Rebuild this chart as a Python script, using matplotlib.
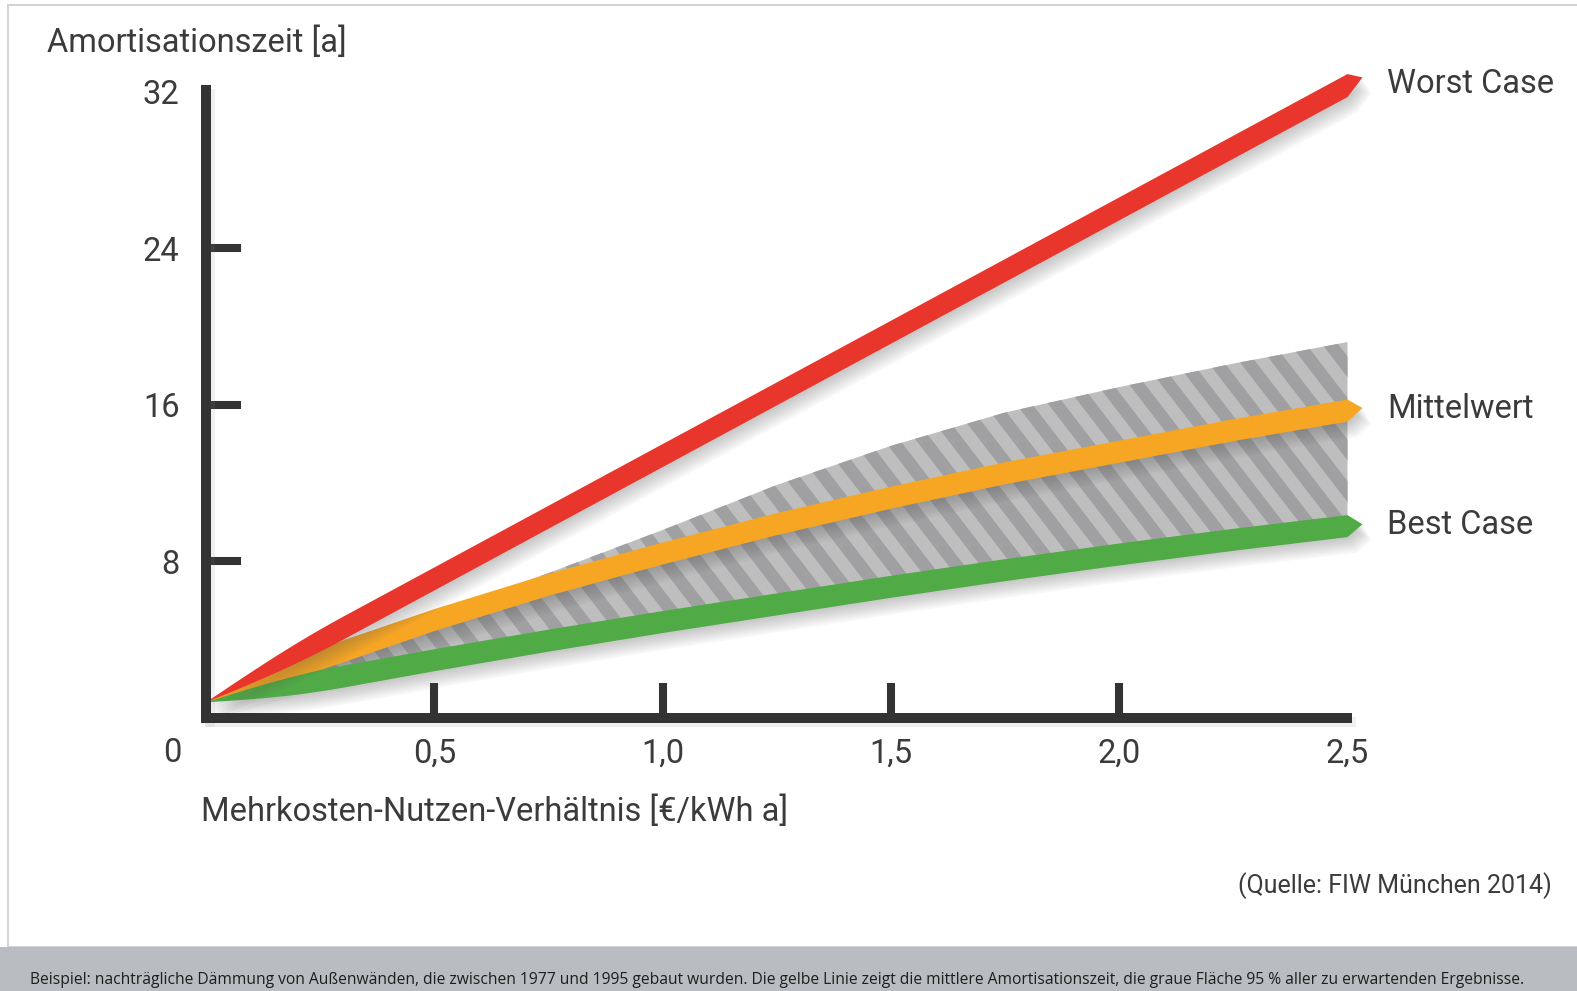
import numpy as np
import matplotlib
matplotlib.use("Agg")
import matplotlib.pyplot as plt
from matplotlib.patches import Polygon, Rectangle
from matplotlib.collections import PolyCollection
import matplotlib.patheffects as pe

# ---- data: payback time [a] vs. extra-cost/benefit ratio [EUR/kWh a] ----
ratio = [0.0, 0.25, 0.5, 0.75, 1.0, 1.25, 1.5, 1.75, 2.0, 2.25, 2.5]
worst_case = [0.8, 3.95, 7.1, 10.25, 13.4, 16.55, 19.7, 22.85, 26.0, 29.15, 32.3]
mittelwert = [0.8, 3.0, 5.0, 6.8, 8.4, 9.9, 11.25, 12.5, 13.6, 14.7, 15.7]
best_case = [0.8, 1.9, 2.95, 3.95, 4.9, 5.8, 6.7, 7.55, 8.35, 9.1, 9.8]
band_upper = [0.8, 3.1, 5.3, 7.4, 9.6, 11.9, 13.9, 15.6, 16.9, 18.1, 19.2]
band_lower = best_case

x_ticks = [0.5, 1.0, 1.5, 2.0, 2.5]
x_tick_labels = ["0,5", "1,0", "1,5", "2,0", "2,5"]
y_ticks = [8, 16, 24, 32]
y_tick_labels = ["8", "16", "24", "32"]

series_names = ["Worst Case", "Mittelwert", "Best Case"]

# ---- layout (pixels) ----
W, H = 1577, 991
X0_PX, PX_PER_X = 206.0, 456.6
Y0_PX, PX_PER_Y = 718.0, 19.58
TEXT = "#3b3b3b"
AXIS = "#333333"
RED, ORANGE, GREEN = "#e8362d", "#f6a623", "#50aa46"
FONT = ["Roboto", "DejaVu Sans"]
FS = 23.5

fig = plt.figure(figsize=(W / 100, H / 100), dpi=100)
fig.patch.set_facecolor("white")
ax = fig.add_axes([0, 0, 1, 1])
ax.set_xlim(-X0_PX / PX_PER_X, (W - X0_PX) / PX_PER_X)
ax.set_ylim((Y0_PX - H) / PX_PER_Y, Y0_PX / PX_PER_Y)
ax.patch.set_alpha(0)


def fx(px):
    return px / W


def fy(py):
    return 1 - py / H


def soft_shadow(n=8, step=1.4, alpha=0.045):
    effects = [pe.SimplePatchShadow(offset=(step * (i + 1) * 0.6, -step * (i + 1)),
                                    shadow_rgbFace="#555555", alpha=alpha)
               for i in range(n)]
    return effects + [pe.Normal()]


# ---- outer frame and caption banner ----
fig.add_artist(Rectangle((fx(8), fy(947)), 1.2, fy(5) - fy(947),
                         transform=fig.transFigure, fill=False,
                         edgecolor="#cfcfcf", lw=1.3, zorder=0))
fig.add_artist(Rectangle((0, 0), 1, fy(947), transform=fig.transFigure,
                         facecolor="#b9bcc0", edgecolor="none", zorder=0))

# ---- axes styling ----
for side in ("top", "right"):
    ax.spines[side].set_visible(False)
ax.spines["left"].set_position(("data", 0))
ax.spines["bottom"].set_position(("data", 0))
ax.spines["left"].set_bounds(-5 / PX_PER_Y, (Y0_PX - 85) / PX_PER_Y)
ax.spines["bottom"].set_bounds(-5 / PX_PER_X, (1352 - X0_PX) / PX_PER_X)
for side in ("left", "bottom"):
    sp = ax.spines[side]
    sp.set_linewidth(7.2)
    sp.set_color(AXIS)
    sp.set_capstyle("butt")
    sp.set_path_effects([pe.SimpleLineShadow(offset=(3, -3), shadow_color="#888888", alpha=0.12),
                         pe.Normal()])
    sp.set_zorder(3)

ax.set_xticks(x_ticks)
ax.set_xticklabels(x_tick_labels)
ax.set_yticks(y_ticks)
ax.set_yticklabels(y_tick_labels)
ax.tick_params(axis="both", direction="in", length=25, width=5.8, color=AXIS,
               labelsize=FS, labelcolor=TEXT)
ax.tick_params(axis="x", pad=14.5)
ax.tick_params(axis="y", pad=19)
for lab in ax.get_xticklabels() + ax.get_yticklabels():
    lab.set_fontfamily(FONT)
ax.xaxis.get_major_ticks()[-1].tick1line.set_visible(False)
ax.yaxis.get_major_ticks()[-1].tick1line.set_visible(False)

ax.text(fx(172), fy(753), "0", transform=fig.transFigure, fontsize=FS,
        color=TEXT, family=FONT, ha="center", va="center")

# ---- 95 % band with diagonal stripes ----
bx = np.asarray(ratio)
band = Polygon(np.column_stack([np.r_[bx, bx[::-1]],
                                np.r_[band_upper, np.asarray(band_lower)[::-1]]]),
               closed=True, facecolor="#bebebe", edgecolor="none", zorder=1)
ax.add_patch(band)

period_px, angle_slope = 32.0, 1.3
s = angle_slope * PX_PER_X / PX_PER_Y      # stripe slope in data units
period = period_px / PX_PER_X
y_lo, y_hi = -1.0, 22.0
stripes = []
for c in np.arange(-0.5, 3.5, period):
    stripes.append([(c - y_lo / s, y_lo), (c + period / 2 - y_lo / s, y_lo),
                    (c + period / 2 - y_hi / s, y_hi), (c - y_hi / s, y_hi)])
stripe_coll = PolyCollection(stripes, facecolors="#a0a0a2", edgecolors="none", zorder=1.1)
ax.add_collection(stripe_coll)
stripe_coll.set_clip_path(band)


# ---- tapered ribbons for the three series ----
def ribbon(xs, ys, width_px, tip_px=15.0, ramp=0.3):
    xs = np.asarray(xs, float)
    ys = np.asarray(ys, float)
    # extra vertices near the origin so the ribbon widens smoothly
    xr = np.unique(np.r_[xs, np.linspace(0, ramp, 13)])
    yr = np.interp(xr, xs, ys)
    hw = (width_px / 2) / PX_PER_Y * np.sin(0.5 * np.pi * np.clip(xr / ramp, 0, 1))
    slope = (ys[-1] - ys[-2]) / (xs[-1] - xs[-2])
    tip_dx = tip_px / PX_PER_X
    tip = (xs[-1] + tip_dx, ys[-1] + slope * tip_dx)
    upper = np.column_stack([xr, yr + hw])
    lower = np.column_stack([xr, yr - hw])[::-1]
    return np.vstack([upper, [tip], lower])


for vals, col, wpx, z in [(mittelwert, ORANGE, 22, 2.0),
                          (best_case, GREEN, 22, 2.1),
                          (worst_case, RED, 23, 2.2)]:
    poly = Polygon(ribbon(ratio, vals, wpx), closed=True, facecolor=col,
                   edgecolor="none", zorder=z)
    poly.set_path_effects(soft_shadow())
    ax.add_patch(poly)

# ---- series labels at the line ends ----
for name, vals in zip(series_names, [worst_case, mittelwert, best_case]):
    ax.annotate(name, xy=(ratio[-1], vals[-1]), xytext=(28.5, 0.8),
                textcoords="offset points", fontsize=FS, color=TEXT,
                family=FONT, ha="left", va="center")

# ---- axis titles, source and caption ----
fig.text(fx(47), fy(43), "Amortisationszeit [a]", fontsize=FS, color=TEXT,
         family=FONT, ha="left", va="center")
fig.text(fx(201), fy(812), "Mehrkosten-Nutzen-Verhältnis [€/kWh a]", fontsize=FS,
         color=TEXT, family=FONT, ha="left", va="center")
fig.text(fx(1552), fy(886), "(Quelle: FIW München 2014)", fontsize=18, color=TEXT,
         family=FONT, ha="right", va="center")
fig.text(fx(30), fy(980),
         "Beispiel: nachträgliche Dämmung von Außenwänden, die zwischen 1977 und 1995 "
         "gebaut wurden. Die gelbe Linie zeigt die mittlere Amortisationszeit, die graue "
         "Fläche 95 % aller zu erwartenden Ergebnisse.",
         fontsize=11.25, color="#1e1e1e", family=["Open Sans", "DejaVu Sans"],
         ha="left", va="center")

fig.savefig("out.png", dpi=100)
